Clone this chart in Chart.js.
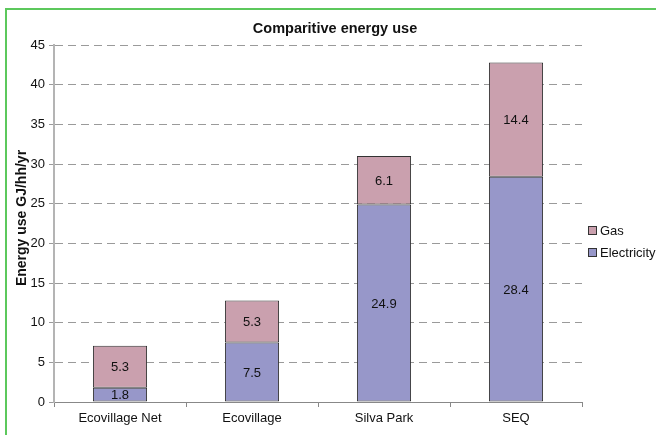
<!DOCTYPE html>
<html>
<head>
<meta charset="utf-8">
<script src="https://cdn.jsdelivr.net/npm/chart.js@4.4.1/dist/chart.umd.min.js"></script>
<style>
  html, body { margin: 0; padding: 0; background: #fff; }
  #wrap { position: relative; width: 656px; height: 435px; overflow: hidden; }
  #frame { position: absolute; left: 5px; top: 8px; width: 700px; height: 500px;
           border-left: 2px solid #5cc85c; border-top: 2px solid #5cc85c; }
  #c { position: absolute; left: 0; top: 0; }
</style>
</head>
<body>
<div id="wrap">
  <div id="frame"></div>
  <canvas id="c" width="656" height="435"></canvas>
</div>
<script>
// Energy use per household (GJ/hh/yr)
const categories = ['Ecovillage Net', 'Ecovillage', 'Silva Park', 'SEQ'];
const electricity = [1.8, 7.5, 24.9, 28.4];
const gas = [5.3, 5.3, 6.1, 14.4];
const yTicks = [0, 5, 10, 15, 20, 25, 30, 35, 40, 45];

const chartTitle = 'Comparitive energy use';
const yTitle = 'Energy use GJ/hh/yr';

const FONT = '"Liberation Sans", Arial, sans-serif';

// Value labels centred inside each stacked segment
const segmentLabels = {
  id: 'segmentLabels',
  afterDatasetsDraw(chart) {
    const ctx = chart.ctx;
    ctx.save();
    ctx.font = '13px ' + FONT;
    ctx.fillStyle = '#111';
    ctx.textAlign = 'center';
    ctx.textBaseline = 'middle';
    chart.data.datasets.forEach((ds, i) => {
      const meta = chart.getDatasetMeta(i);
      meta.data.forEach((bar, j) => {
        const v = ds.data[j];
        ctx.fillText(v.toFixed(1), bar.x, (bar.y + bar.base) / 2 + 1);
      });
    });
    ctx.restore();
  }
};

// Title, rotated axis title and the legend at the right
const decorations = {
  id: 'decorations',
  afterDraw(chart) {
    const ctx = chart.ctx;
    ctx.save();
    ctx.fillStyle = '#111';
    ctx.textAlign = 'center';
    ctx.textBaseline = 'middle';
    ctx.font = 'bold 14.5px ' + FONT;
    ctx.fillText(chartTitle, 335, 29);

    ctx.save();
    ctx.translate(22, 218);
    ctx.rotate(-Math.PI / 2);
    ctx.font = 'bold 14px ' + FONT;
    ctx.fillText(yTitle, 0, 0);
    ctx.restore();

    // legend entries, gas listed first
    const entries = [chart.data.datasets[1], chart.data.datasets[0]];
    ctx.font = '13px ' + FONT;
    ctx.textAlign = 'left';
    entries.forEach((ds, k) => {
      const cy = 230 + k * 22;
      ctx.fillStyle = ds.backgroundColor;
      ctx.fillRect(588, cy - 4, 8, 8);
      ctx.strokeStyle = '#333';
      ctx.lineWidth = 1;
      ctx.strokeRect(588.5, cy - 3.5, 8, 8);
      ctx.fillStyle = '#111';
      ctx.fillText(ds.label, 600, cy + 1);
    });
    ctx.restore();
  }
};

new Chart(document.getElementById('c'), {
  type: 'bar',
  data: {
    labels: categories,
    datasets: [
      { label: 'Electricity', data: electricity, backgroundColor: '#9797c9',
        borderColor: '#333', borderWidth: 1, borderSkipped: false },
      { label: 'Gas', data: gas, backgroundColor: '#caa0ae',
        borderColor: '#333', borderWidth: 1, borderSkipped: false }
    ]
  },
  options: {
    responsive: false,
    animation: false,
    devicePixelRatio: 1,
    layout: { padding: { top: 45, right: 74, bottom: 0, left: 0 } },
    categoryPercentage: 1,
    barPercentage: 0.41,
    plugins: {
      legend: { display: false },
      title: { display: false },
      tooltip: { enabled: false }
    },
    scales: {
      x: {
        stacked: true,
        afterFit(s) { s.height = 33; },
        grid: { display: true, drawOnChartArea: false, drawTicks: true,
                tickLength: 5, color: '#888', offset: true },
        border: { display: true, color: '#888', width: 1 },
        ticks: { font: { family: FONT, size: 13 }, color: '#111', padding: 4 }
      },
      y: {
        stacked: true,
        min: yTicks[0],
        max: yTicks[yTicks.length - 1],
        afterFit(s) { s.width = 54; },
        afterBuildTicks(s) { s.ticks = yTicks.map(v => ({ value: v })); },
        grid: { color: '#9a9a9a', lineWidth: 1, tickLength: 5, drawTicks: true },
        border: { display: true, color: '#b4b4b4', width: 2, dash: [8, 5] },
        ticks: { font: { family: FONT, size: 13 }, color: '#111', padding: 4 }
      }
    }
  },
  plugins: [segmentLabels, decorations]
});
</script>
</body>
</html>
